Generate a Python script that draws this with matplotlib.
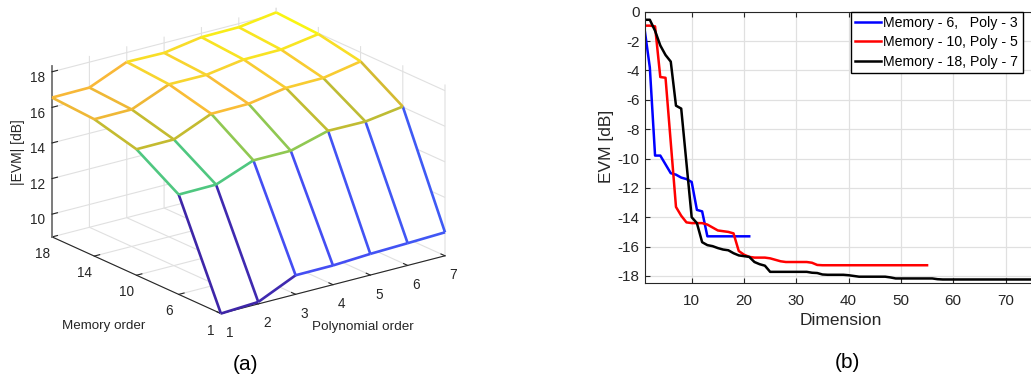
import numpy as np
import matplotlib
matplotlib.use("Agg")
import matplotlib.pyplot as plt
from matplotlib.colors import LinearSegmentedColormap, Normalize
from mpl_toolkits.mplot3d.art3d import Line3DCollection

plt.rcParams['font.family'] = ['Liberation Sans', 'DejaVu Sans']
plt.rcParams['axes.unicode_minus'] = False

# (a) |EVM| [dB] over polynomial order (columns) and memory order (rows)
poly_order = [1, 2, 3, 4, 5, 6, 7]
memory_order = [1, 6, 10, 14, 18]
evm_mem_1 = [8.72, 8.83, 9.79, 9.80, 9.91, 9.97, 10.04]
evm_mem_6 = [14.33, 14.35, 15.17, 15.17, 15.75, 15.73, 16.03]
evm_mem_10 = [15.80, 15.81, 16.71, 16.73, 17.08, 17.10, 17.49]
evm_mem_14 = [16.41, 16.42, 17.29, 17.28, 17.60, 17.62, 17.95]
evm_mem_18 = [16.55, 16.57, 17.47, 17.44, 17.78, 17.80, 18.09]
z_ticks = [10, 12, 14, 16, 18]

# (b) EVM [dB] vs dimension
evm_m6_p3 = [-1.2, -3.8, -9.8, -9.8, -10.4, -11.0, -11.1, -11.3, -11.4, -11.6,
             -13.5, -13.6, -15.3, -15.3, -15.3, -15.3, -15.3, -15.3, -15.3, -15.3,
             -15.3]
evm_m10_p5 = [-0.95, -0.95, -1.0, -4.45, -4.5, -8.9, -13.3, -13.9, -14.35, -14.4,
              -14.4, -14.4, -14.5, -14.7, -14.9, -14.95, -15.0, -15.1, -16.3, -16.55,
              -16.7, -16.75, -16.75, -16.75, -16.8, -16.9, -17.0, -17.05, -17.05, -17.05,
              -17.05, -17.05, -17.1, -17.25, -17.27, -17.27, -17.27, -17.27, -17.27, -17.27,
              -17.27, -17.27, -17.27, -17.27, -17.27, -17.27, -17.27, -17.27, -17.27, -17.27,
              -17.27, -17.27, -17.27, -17.27, -17.27]
evm_m18_p7 = [-0.55, -0.55, -1.3, -2.3, -2.95, -3.4, -6.4, -6.6, -10.3, -14.0,
              -14.4, -15.7, -15.9, -15.97, -16.1, -16.2, -16.25, -16.45, -16.6, -16.65,
              -16.7, -17.05, -17.2, -17.3, -17.72, -17.72, -17.72, -17.72, -17.72, -17.72,
              -17.72, -17.72, -17.78, -17.8, -17.9, -17.92, -17.92, -17.92, -17.92, -17.95,
              -18.0, -18.05, -18.05, -18.05, -18.05, -18.05, -18.05, -18.1, -18.17, -18.17,
              -18.17, -18.17, -18.17, -18.17, -18.17, -18.17, -18.22, -18.24, -18.24, -18.24,
              -18.24, -18.24, -18.24, -18.24, -18.24, -18.24, -18.24, -18.24, -18.24, -18.24,
              -18.24, -18.24, -18.24, -18.24, -18.24, -18.24]
legend_labels = ["Memory - 6,   Poly - 3", "Memory - 10, Poly - 5", "Memory - 18, Poly - 7"]
line_colors = ["#0000ff", "#ff0000", "#000000"]

dark = (0.15, 0.15, 0.15)
# rough parula
parula = LinearSegmentedColormap.from_list("parula", [
    (0.00, (0.2422, 0.1504, 0.6603)), (0.11, (0.27, 0.30, 0.95)),
    (0.22, (0.19, 0.49, 0.99)), (0.33, (0.09, 0.63, 0.89)),
    (0.44, (0.03, 0.71, 0.77)), (0.56, (0.20, 0.77, 0.58)),
    (0.67, (0.50, 0.80, 0.36)), (0.76, (0.78, 0.73, 0.18)),
    (0.84, (0.98, 0.72, 0.22)), (0.92, (0.97, 0.84, 0.18)),
    (1.00, (0.976, 0.983, 0.054))])

fig = plt.figure(figsize=(10.31, 3.79), dpi=100)

# ---------------- (a) mesh ----------------
ax = fig.add_axes([0.0299, 0.0016, 0.4112, 1.1187], projection='3d', computed_zorder=False)
ax.set_proj_type('ortho')
ax.view_init(elev=20, azim=-127)
ax.set_box_aspect((1, 1, 0.65))

Z = np.array([evm_mem_1, evm_mem_6, evm_mem_10, evm_mem_14, evm_mem_18])
P, M = np.meshgrid(poly_order, np.arange(len(memory_order)))
ax.plot_surface(P, M, Z, color='white', shade=False, linewidth=0, antialiased=False, zorder=1)

norm = Normalize(Z.min(), Z.max())
segs, cols = [], []
for i in range(Z.shape[0]):
    for j in range(Z.shape[1]):
        c = parula(norm(Z[i, j]))
        if j + 1 < Z.shape[1]:
            segs.append([(P[i, j], M[i, j], Z[i, j]), (P[i, j + 1], M[i, j + 1], Z[i, j + 1])])
            cols.append(c)
        if i + 1 < Z.shape[0]:
            segs.append([(P[i, j], M[i, j], Z[i, j]), (P[i + 1, j], M[i + 1, j], Z[i + 1, j])])
            cols.append(c)
ax.add_collection3d(Line3DCollection(segs, colors=cols, linewidths=1.9, zorder=2))

ax.set_xlim(1, 7)
ax.set_ylim(0, 4)
ax.set_zlim(8.72, 18.35)
ax.set_xticks(poly_order)
ax.set_yticks(np.arange(len(memory_order)))
ax.set_yticklabels(memory_order)
ax.set_zticks(z_ticks)
for axis in (ax.xaxis, ax.yaxis, ax.zaxis):
    axis.set_pane_color((1, 1, 1, 0))
    axis.pane.set_edgecolor((1, 1, 1, 0))
    axis._axinfo['grid'].update(color=(0.88, 0.88, 0.88, 1), linewidth=0.8)
    axis._axinfo['tick']['inward_factor'] = 0.0
    axis._axinfo['tick']['outward_factor'] = 0.3
    axis.line.set_color(dark)
    axis.line.set_linewidth(0.8)
ax.zaxis.line.set_color((0.45, 0.45, 0.45))
ax.zaxis.line.set_linewidth(1.3)
ax.tick_params(labelsize=9.8, colors=dark, pad=0)
ax.yaxis.set_tick_params(pad=-1)
ax.zaxis.set_tick_params(pad=-2)

fig.text(18 / 1031, 1 - 152 / 379, "|EVM| [dB]", rotation=90, ha='center', va='center',
         fontsize=10, color=dark)
fig.text(103.5 / 1031, 1 - 326 / 379, "Memory order", ha='center', va='center',
         fontsize=9.6, color=dark)
fig.text(362.5 / 1031, 1 - 327 / 379, "Polynomial order", ha='center', va='center',
         fontsize=9.7, color=dark)
fig.text(246 / 1031, 1 - 365 / 379, "(a)", ha='center', va='center', fontsize=15)

# ---------------- (b) EVM vs dimension ----------------
ax2 = fig.add_axes([644.6 / 1031, 95.7 / 379, 392.3 / 1031, 271.6 / 379])
for vals, col, lab in zip([evm_m6_p3, evm_m10_p5, evm_m18_p7], line_colors, legend_labels):
    ax2.plot(np.arange(1, len(vals) + 1), vals, color=col, lw=1.8, label=lab)

ax2.set_xlim(1, 76)
ax2.set_ylim(-18.5, 0)
ax2.set_xticks([10, 20, 30, 40, 50, 60, 70])
ax2.set_yticks(np.arange(-18, 1, 2))
ax2.grid(True, color=(0.88, 0.88, 0.88), linewidth=0.9)
ax2.set_axisbelow(True)
ax2.tick_params(direction='in', top=True, right=True, length=3.5, labelsize=11,
                colors=dark, labelcolor=dark)
ax2.tick_params(axis='x', pad=7.5)
for sp in ax2.spines.values():
    sp.set_color(dark)
    sp.set_linewidth(0.8)
ax2.set_xlabel("Dimension", fontsize=12.5, color=dark)
ax2.xaxis.set_label_coords(0.5, -0.11)
ax2.xaxis.label.set_va('top')
fig.text(606.5 / 1031, 1 - 146 / 379, "EVM [dB]", rotation=90, ha='center', va='center',
         fontsize=12.5, color=dark)
ax2.legend(loc='upper left', bbox_to_anchor=(851 / 1031, 1 - 11.7 / 379),
           bbox_transform=fig.transFigure, borderaxespad=0, fancybox=False,
           edgecolor='black', framealpha=1, fontsize=10.2, handlelength=1.85,
           handletextpad=0.14, labelspacing=0.38, borderpad=0.3)
fig.text(847.5 / 1031, 1 - 362 / 379, "(b)", ha='center', va='center', fontsize=15)

fig.savefig("out.png", dpi=100)
